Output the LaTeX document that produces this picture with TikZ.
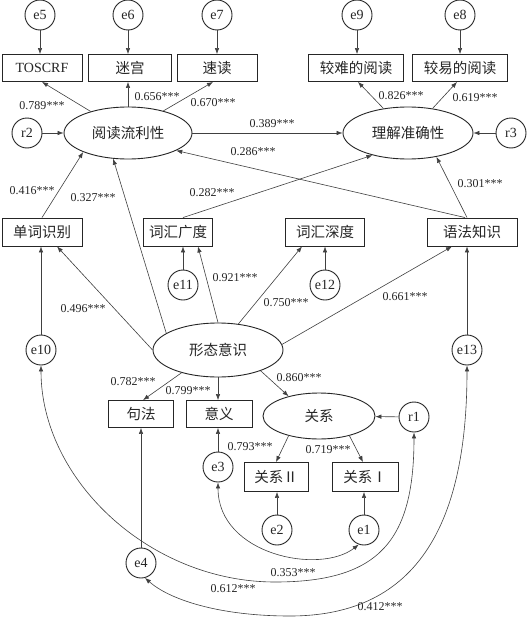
\documentclass[tikz,border=0pt]{standalone}
\usepackage{fontspec}
\setmainfont{Liberation Serif}
\newfontfamily\cjk{Noto Sans CJK SC}
\usetikzlibrary{shapes.geometric,arrows.meta}
\begin{document}
\begin{tikzpicture}[x=1pt,y=-1pt,
  every node/.style={text=black!85},
  box/.style={draw=black!85,line width=0.9pt,minimum height=27pt,inner sep=0pt,font=\fontsize{14.5}{16}\cjk},
  lat/.style={draw=black!85,line width=0.9pt,ellipse,inner sep=0pt,font=\fontsize{14.5}{16}\cjk},
  err/.style={draw=black!85,line width=0.9pt,circle,minimum size=30pt,inner sep=0pt,font=\fontsize{14}{16}\selectfont},
  lab/.style={font=\fontsize{12}{14}\selectfont,inner sep=0pt},
  arr/.style={draw=black!75,line width=0.6pt,-{Latex[length=6pt,width=4.5pt]}},
  cov/.style={draw=black!75,line width=0.6pt,{Latex[length=6pt,width=4.5pt]}-{Latex[length=6pt,width=4.5pt]}}
]
\path[fill=white,use as bounding box] (0,0) rectangle (527,618);

% boxes
\node[box,minimum width=80pt,font=\fontsize{14}{16}\selectfont] (toscrf) at (42,68) {TOSCRF};
\node[box,minimum width=83pt] (migong) at (130,68) {迷宫};
\node[box,minimum width=80pt] (sudu) at (217,68) {速读};
\node[box,minimum width=95pt] (jiaonan) at (356,68) {较难的阅读};
\node[box,minimum width=95pt] (jiaoyi) at (460,68) {较易的阅读};
\node[box,minimum width=80pt,minimum height=28pt] (dcsb) at (42,232) {单词识别};
\node[box,minimum width=69pt,minimum height=28pt] (chgd) at (178,232) {词汇广度};
\node[box,minimum width=79pt,minimum height=28pt] (chsd) at (325,232) {词汇深度};
\node[box,minimum width=90pt,minimum height=28pt] (yfzs) at (472,232) {语法知识};
\node[box,minimum width=65pt] (jufa) at (141,414) {句法};
\node[box,minimum width=66pt] (yiyi) at (219,414) {意义};
\node[box,minimum width=64pt,minimum height=29pt] (gx2) at (276,477) {关系Ⅱ};
\node[box,minimum width=66pt,minimum height=29pt] (gx1) at (365,477) {关系Ⅰ};

% latent
\node[lat,minimum width=128pt,minimum height=52pt] (ydl) at (128,133) {阅读流利性};
\node[lat,minimum width=130pt,minimum height=52pt] (ljzq) at (408,133) {理解准确性};
\node[lat,minimum width=130pt,minimum height=54pt] (xtys) at (218,350) {形态意识};
\node[lat,minimum width=112pt,minimum height=46pt] (guanxi) at (319,416) {关系};

% errors
\node[err] (e5) at (40,15) {e5};
\node[err] (e6) at (128,15) {e6};
\node[err] (e7) at (217,15) {e7};
\node[err] (e9) at (357,15) {e9};
\node[err] (e8) at (460,15) {e8};
\node[err] (r2) at (27,133) {r2};
\node[err] (r3) at (511,133) {r3};
\node[err] (e10) at (41,350) {e10};
\node[err] (e11) at (183,285) {e11};
\node[err] (e12) at (325,285) {e12};
\node[err] (e13) at (467,350) {e13};
\node[err] (e3) at (218,467) {e3};
\node[err] (r1) at (414,417) {r1};
\node[err] (e2) at (277,530) {e2};
\node[err] (e1) at (364,530) {e1};
\node[err] (e4) at (141,563) {e4};

% error arrows
\draw[arr] (e5) -- (e5 |- toscrf.north);
\draw[arr] (e6) -- (e6 |- migong.north);
\draw[arr] (e7) -- (e7 |- sudu.north);
\draw[arr] (e9) -- (e9 |- jiaonan.north);
\draw[arr] (e8) -- (e8 |- jiaoyi.north);
\draw[arr] (r2) -- (ydl);
\draw[arr] (r3) -- (ljzq);
\draw[arr] (e10) -- (e10 |- dcsb.south);
\draw[arr] (e11) -- (e11 |- chgd.south);
\draw[arr] (e12) -- (e12 |- chsd.south);
\draw[arr] (e13) -- (e13 |- yfzs.south);
\draw[arr] (e3) -- (e3 |- yiyi.south);
\draw[arr] (e4) -- (e4 |- jufa.south);
\draw[arr] (e2) -- (e2 |- gx2.south);
\draw[arr] (e1) -- (e1 |- gx1.south);
\draw[arr] (r1) -- (guanxi);

% structural
\draw[arr] (ydl.150) -- (toscrf.south);
\draw[arr] (ydl.north) -- (ydl.north |- migong.south);
\draw[arr] (ydl.32) -- ([xshift=-4pt]sudu.south);
\draw[arr] (ydl.east) -- (ljzq.west);
\draw[arr] (ljzq.135) -- ([xshift=2pt]jiaonan.south);
\draw[arr] (ljzq.45) -- ([xshift=-3pt]jiaoyi.south);
\draw[arr] (dcsb.north) -- (ydl.-157);
\draw[arr] (xtys.162) -- (ydl.-120);
\draw[arr] ([xshift=-7pt]yfzs.north) -- (ydl.-20);
\draw[arr] ([xshift=-5pt]yfzs.north) -- (ljzq.-40);
\draw[arr] ([xshift=5pt]chgd.north) -- (ljzq.-148);
\draw[arr] (xtys.west) -- ([xshift=15pt]dcsb.south);
\draw[arr] (xtys.north) -- ([xshift=20pt]chgd.south);
\draw[arr] (xtys.52) -- ([xshift=-23pt]chsd.south);
\draw[arr] (xtys.5) -- ([xshift=-20pt]yfzs.south);
\draw[arr] (xtys.-148) -- ([xshift=2pt]jufa.north);
\draw[arr] (xtys.south) -- (xtys.south |- yiyi.north);
\draw[arr] (xtys.-26) -- (guanxi.147);
\draw[arr] (guanxi.-147) -- (gx2.north);
\draw[arr] (guanxi.-33) -- ([xshift=-2pt]gx1.north);

% covariances
\draw[cov] (e3.south) .. controls (218,555) and (320,575) .. (e1.-110);
\draw[cov] (e10.south) .. controls (41,480) and (150,582) .. (275,582) .. controls (380,582) and (414,540) .. (r1.south);
\draw[cov] (e13.south) .. controls (467,520) and (420,616) .. (290,616) .. controls (220,616) and (170,600) .. (e4.-75);

% labels
\node[lab] (l1) at (42,106) {0.789***};
\node[lab] (l2) at (157,97) {0.656***};
\node[lab] (l3) at (213,103) {0.670***};
\node[lab] (l4) at (272,124) {0.389***};
\node[lab] (l5) at (253,152) {0.286***};
\node[lab] (l6) at (401,96) {0.826***};
\node[lab] (l7) at (475,98) {0.619***};
\node[lab] (l8) at (32,191) {0.416***};
\node[lab] (l9) at (93,198) {0.327***};
\node[lab] (l10) at (212,193) {0.282***};
\node[lab] (l11) at (480,184) {0.301***};
\node[lab] (l12) at (235,278) {0.921***};
\node[lab] (l13) at (83,309) {0.496***};
\node[lab] (l14) at (286,303) {0.750***};
\node[lab] (l15) at (405,297) {0.661***};
\node[lab] (l16) at (299,378) {0.860***};
\node[lab] (l17) at (133,382) {0.782***};
\node[lab] (l18) at (188,391) {0.799***};
\node[lab] (l19) at (250,447) {0.793***};
\node[lab] (l20) at (328,450) {0.719***};
\node[lab] (l21) at (293,573) {0.353***};
\node[lab] (l22) at (233,589) {0.612***};
\node[lab] (l23) at (380,607) {0.412***};
\end{tikzpicture}
\end{document}
